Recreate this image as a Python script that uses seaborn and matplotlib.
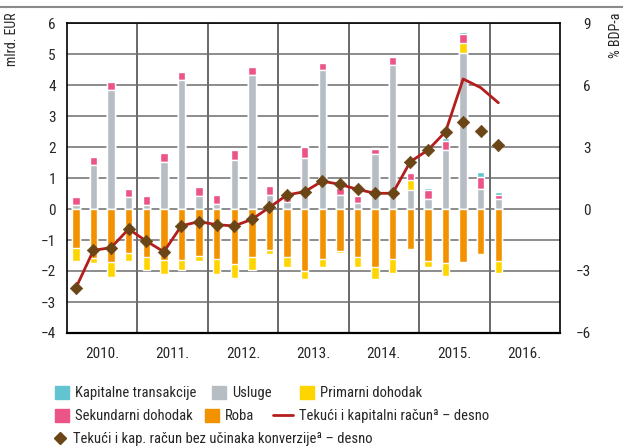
import numpy as np
import pandas as pd
import matplotlib
matplotlib.use("Agg")
import matplotlib.pyplot as plt
import matplotlib.patches as mpatches
import matplotlib.lines as mlines
import seaborn as sns

# quarterly data 2010Q1 .. 2016Q1
quarters = [f"{y}Q{q}" for y in range(2010, 2017) for q in range(1, 5)][:25]
years = ["2010.", "2011.", "2012.", "2013.", "2014.", "2015.", "2016."]

usluge = [0.13, 1.42, 3.84, 0.40, 0.13, 1.51, 4.16, 0.42, 0.16, 1.59, 4.32, 0.45, 0.22,
          1.65, 4.48, 0.45, 0.20, 1.76, 4.65, 0.61, 0.32, 1.90, 5.02, 0.65, 0.32]
primarni_pos = [0, 0, 0, 0, 0, 0, 0, 0, 0, 0, 0, 0, 0,
                0, 0, 0, 0, 0, 0, 0.33, 0, 0, 0.32, 0, 0]
sekundarni = [0.27, 0.27, 0.26, 0.24, 0.29, 0.29, 0.27, 0.28, 0.28, 0.32, 0.27, 0.28, 0.28,
              0.35, 0.23, 0.22, 0.22, 0.19, 0.25, 0.21, 0.29, 0.29, 0.31, 0.39, 0.14]
kapitalne = [0.02, 0.02, 0.03, 0.03, 0.02, 0.02, 0.02, 0.03, 0.02, 0.02, 0.02, 0.03, 0.02,
             0.02, 0.02, 0.02, 0.02, 0.02, 0.02, 0.03, 0.06, 0.09, 0.06, 0.14, 0.09]
roba = [-1.26, -1.57, -1.71, -1.41, -1.55, -1.65, -1.66, -1.52, -1.62, -1.77, -1.54, -1.32, -1.56,
        -2.00, -1.61, -1.35, -1.56, -1.88, -1.62, -1.30, -1.68, -1.75, -1.72, -1.45, -1.68]
primarni_neg = [-0.42, -0.18, -0.47, -0.26, -0.42, -0.44, -0.31, -0.15, -0.47, -0.46, -0.44, -0.12, -0.30,
                -0.27, -0.25, -0.08, -0.32, -0.39, -0.45, 0, -0.20, -0.42, 0, 0, -0.37]

# % of GDP, right axis
bez_konverzije = [-3.83, -2.0, -1.87, -0.97, -1.55, -2.07, -0.81, -0.61, -0.76, -0.82, -0.5, 0.08, 0.68,
                  0.84, 1.35, 1.19, 0.95, 0.76, 0.76, 2.29, 2.85, 3.74, 4.19, 3.79, 3.1]
tekuci_kapitalni = bez_konverzije[:22] + [6.29, 5.87, 5.14]

c_kap = "#62C4D0"
c_usl = "#B6BEC4"
c_prim = "#FFD500"
c_sek = "#EC5386"
c_roba = "#F39200"
c_red = "#B51D1D"
c_dia = "#6B4516"

sns.set_style("white")
plt.rcParams["font.family"] = ["Liberation Sans Narrow", "Roboto Condensed", "Liberation Sans", "DejaVu Sans"]
plt.rcParams["font.size"] = 10

df = pd.DataFrame({"q": quarters, "usl": usluge, "prim": primarni_pos, "sek": sekundarni,
                   "kap": kapitalne, "roba": roba, "primn": primarni_neg})
df["s1"] = df["usl"]
df["s2"] = df["s1"] + df["prim"]
df["s3"] = df["s2"] + df["sek"]
df["s4"] = df["s3"] + df["kap"]
df["n2"] = df["roba"] + df["primn"]

fig = plt.figure(figsize=(6.23, 4.48), dpi=100)
ax = fig.add_axes([67 / 623, 1 - 333 / 448, (560 - 67) / 623, (333 - 23) / 448])

bw = 0.42
for col, c in [("s4", c_kap), ("s3", c_sek), ("s2", c_prim), ("s1", c_usl),
               ("n2", c_prim), ("roba", c_roba)]:
    sns.barplot(data=df, x="q", y=col, color=c, width=bw, saturation=1, ax=ax, zorder=2)

ax.set_xlim(-0.5, 27.5)
ax.set_ylim(-4, 6)
ax.set_yticks(range(-4, 7))
ax.set_xticks(np.arange(3.5, 27, 4))
ax.set_xticks(np.arange(1.5, 28, 4), minor=True)
ax.set_xticklabels([])
ax.set_xticklabels(years, minor=True)
ax.set_xlabel("")
ax.set_ylabel("")
ax.tick_params(axis="x", which="both", length=0, pad=10, labelsize=11)
ax.tick_params(axis="y", length=0, pad=8, labelsize=11)
ax.grid(axis="y", color="#6E6E6E", lw=1.1)
ax.grid(axis="x", which="major", color="#404040", lw=1.1)
ax.set_axisbelow(True)
for s in ax.spines.values():
    s.set_color("black")
    s.set_linewidth(1.2)
ax.spines["bottom"].set_linewidth(1.6)

ax2 = ax.twinx()
xs = np.arange(len(quarters))
sns.lineplot(x=xs, y=tekuci_kapitalni, color=c_red, lw=2, ax=ax2, zorder=3)
sns.scatterplot(x=xs, y=bez_konverzije, marker="D", s=40, color=c_dia, edgecolor=c_dia,
                linewidth=0.5, ax=ax2, zorder=4)
ax2.set_ylim(-6, 9)
ax2.set_yticks([-6, -3, 0, 3, 6, 9])
ax2.tick_params(axis="y", length=0, pad=22, labelsize=11)
for lab in ax2.get_yticklabels():
    lab.set_horizontalalignment("right")
for s in ax2.spines.values():
    s.set_visible(False)
ax2.set_xlim(-0.5, 27.5)

# labels and top rule
fig.text(12 / 623, 1 - 13 / 448, "mlrd. EUR", rotation=90, ha="center", va="top", fontsize=10)
fig.text(616 / 623, 1 - 13 / 448, "% BDP-a", rotation=90, ha="center", va="top", fontsize=10)
fig.add_artist(mlines.Line2D([0, 1], [1 - 7 / 448, 1 - 7 / 448], color="#8A8A8A", lw=1.5))

# legend entries placed one by one (x of handle, y of row top, in pixels)
entries = [
    (mpatches.Patch(color=c_kap), "Kapitalne transakcije", 55, 386),
    (mpatches.Patch(color=c_usl), "Usluge", 212, 386),
    (mpatches.Patch(color=c_prim), "Primarni dohodak", 300, 386),
    (mpatches.Patch(color=c_sek), "Sekundarni dohodak", 55, 409),
    (mpatches.Patch(color=c_roba), "Roba", 205, 409),
    (mlines.Line2D([], [], color=c_red, lw=2), "Tekući i kapitalni računª – desno", 273, 409),
    (mlines.Line2D([], [], color=c_dia, marker="D", ls="", ms=6.5),
     "Tekući i kap. račun bez učinaka konverzijeª – desno", 53, 432),
]
for h, lab, x, y in entries:
    hl = 1.4 if isinstance(h, mlines.Line2D) and lab.startswith("Tekući i kapitalni") else 0.95
    fig.legend([h], [lab], loc="upper left", bbox_to_anchor=(x / 623, 1 - y / 448),
               frameon=False, borderaxespad=0, borderpad=0, handlelength=hl, handleheight=0.95,
               handletextpad=0.4, fontsize=10.5)

fig.savefig("out.png", dpi=100)
